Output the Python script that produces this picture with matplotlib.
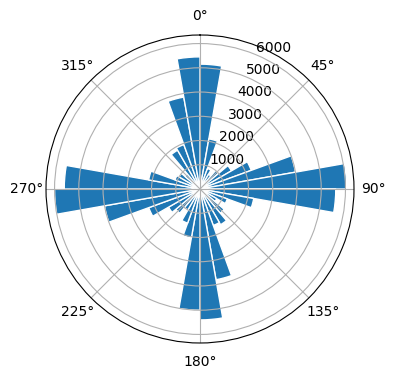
import numpy as np
import matplotlib
matplotlib.use("Agg")
import matplotlib.pyplot as plt

# direction bins (degrees, clockwise from north), 10 degree wide
bin_start = list(range(0, 360, 10))
counts = [5150, 2100, 900, 700, 1000, 1500, 2250, 4000, 6050,
          5600, 2250, 1200, 800, 1300, 1700, 1600, 3800, 5400,
          5000, 2050, 1500, 1000, 1300, 1500, 2250, 4000, 6000,
          5600, 2150, 1100, 1000, 800, 1850, 1950, 3850, 5450]

fig = plt.figure(figsize=(3.96, 3.80), dpi=100)
ax = fig.add_axes([46 / 396, 37 / 380, 308 / 396, 308 / 380], projection='polar')

ax.set_theta_zero_location('N')
ax.set_theta_direction(-1)

theta = np.deg2rad(bin_start)
ax.bar(theta, counts, width=np.deg2rad(10), align='edge',
       color='#1f77b4', edgecolor='white')

fig.savefig('out.png', dpi=100)
